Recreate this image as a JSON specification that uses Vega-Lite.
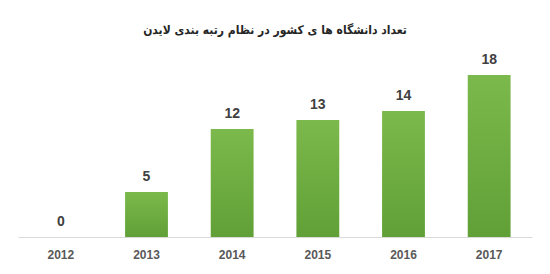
{
  "$schema": "https://vega.github.io/schema/vega-lite/v6.json",
  "width": 514,
  "height": 180,
  "autosize": "none",
  "padding": {"left": 18, "top": 57, "right": 18, "bottom": 37},
  "background": "white",
  "title": {
    "text": "تعداد دانشگاه ها ی کشور در نظام رتبه بندی لایدن",
    "font": "DejaVu Sans Condensed",
    "fontSize": 12,
    "fontWeight": "bold",
    "color": "#262626",
    "offset": 16,
    "anchor": "middle"
  },
  "config": {"view": {"stroke": null}},
  "data": {
    "values": [
      {"year": "2012", "count": 0},
      {"year": "2013", "count": 5},
      {"year": "2014", "count": 12},
      {"year": "2015", "count": 13},
      {"year": "2016", "count": 14},
      {"year": "2017", "count": 18}
    ]
  },
  "encoding": {
    "x": {
      "field": "year",
      "type": "ordinal",
      "scale": {"paddingInner": 0.5, "paddingOuter": 0.25},
      "axis": {
        "title": null,
        "labelAngle": 0,
        "labelFont": "Liberation Sans",
        "labelFontSize": 12,
        "labelFontWeight": "bold",
        "labelColor": "#595959",
        "labelPadding": 12,
        "ticks": false,
        "domainColor": "#d9d9d9",
        "domainWidth": 1
      }
    },
    "y": {
      "field": "count",
      "type": "quantitative",
      "scale": {"domain": [0, 20]},
      "axis": null
    }
  },
  "layer": [
    {
      "mark": {
        "type": "bar",
        "color": {
          "gradient": "linear",
          "x1": 0, "y1": 0, "x2": 0, "y2": 1,
          "stops": [
            {"offset": 0, "color": "#7cb94c"},
            {"offset": 1, "color": "#60a036"}
          ]
        }
      }
    },
    {
      "mark": {
        "type": "text",
        "baseline": "bottom",
        "dy": -8,
        "font": "Liberation Sans",
        "fontSize": 14,
        "fontWeight": "bold",
        "color": "#404040"
      },
      "encoding": {"text": {"field": "count", "type": "quantitative"}}
    }
  ]
}
